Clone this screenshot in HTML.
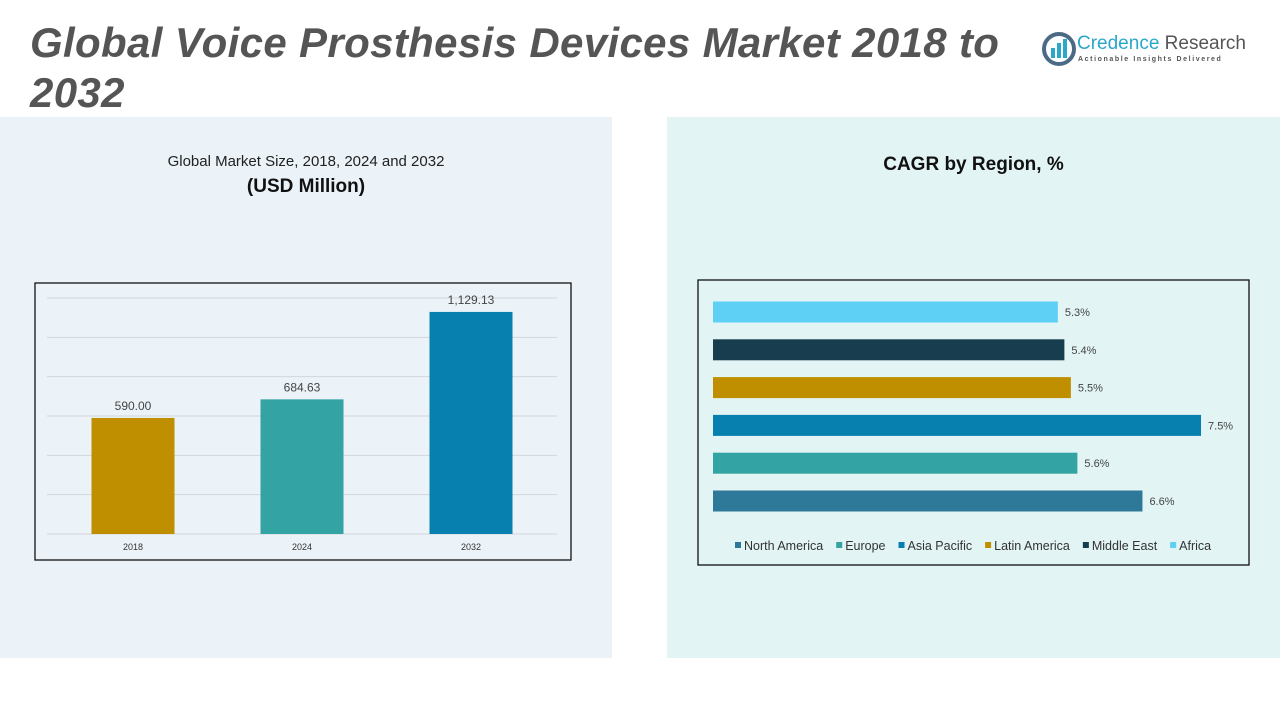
<!DOCTYPE html>
<html><head><meta charset="utf-8"><style>
body{margin:0;width:1280px;height:720px;position:relative;overflow:hidden;background:#fff;font-family:"Liberation Sans",sans-serif}
.abs{position:absolute}
</style></head><body>
<div class="abs" style="left:0;top:117px;width:612px;height:541px;background:#ebf3f8"></div>
<div class="abs" style="left:667px;top:117px;width:613px;height:541px;background:#e2f4f4"></div>
<div class="abs" style="left:30px;top:18px;width:1010px;font-size:42px;letter-spacing:0.35px;font-weight:bold;font-style:italic;color:#555;line-height:50px">Global Voice Prosthesis Devices Market 2018 to 2032</div>
<div class="abs" style="left:1040px;top:30px;width:220px;height:40px">
<svg width="34" height="34" style="position:absolute;left:2px;top:2px"><circle cx="17" cy="17" r="15" fill="none" stroke="#4a6a85" stroke-width="4"/><rect x="9" y="16" width="4" height="10" fill="#2aa7c9"/><rect x="15" y="11" width="4" height="15" fill="#2aa7c9"/><rect x="21" y="7" width="4" height="19" fill="#2aa7c9"/></svg>
<div class="abs" style="left:37px;top:3px;font-size:19px;color:#2aa7c9;white-space:nowrap">Credence <span style="color:#555">Research</span></div>
<div class="abs" style="left:38px;top:26px;font-size:7px;letter-spacing:1.6px;color:#555;white-space:nowrap;font-weight:bold">Actionable Insights Delivered</div>
</div>
<div class="abs" style="left:0;top:153px;width:612px;text-align:center;font-size:15px;color:#222">Global Market Size, 2018, 2024 and 2032</div>
<div class="abs" style="left:0;top:176px;width:612px;text-align:center;font-size:19px;font-weight:bold;color:#111">(USD Million)</div>
<div class="abs" style="left:667px;top:154px;width:613px;text-align:center;font-size:19px;font-weight:bold;color:#111">CAGR by Region, %</div>
<svg class="abs" style="left:0;top:0" width="1280" height="720">
<rect x="35" y="283" width="536" height="277" fill="none" stroke="#111" stroke-width="1.3"/>
<rect x="698" y="280" width="551" height="285" fill="none" stroke="#111" stroke-width="1.3"/>
<g id="left"></g><g id="right"></g>
</svg>
<script>
const years=["2018","2024","2032"];
const sizes=[590.00,684.63,1129.13];
const sizeLabels=["590.00","684.63","1,129.13"];
const barColors=["#bf8f00","#33a3a3","#0780b0"];
const regions=["Africa","Middle East","Latin America","Asia Pacific","Europe","North America"];
const cagr=[5.3,5.4,5.5,7.5,5.6,6.6];
const regionColors=["#5fd0f5","#173d4e","#bf8f00","#0780b0","#33a3a3","#2e789a"];
const legendOrder=["North America","Europe","Asia Pacific","Latin America","Middle East","Africa"];
const NS="http://www.w3.org/2000/svg";
function mk(t,a,p){const e=document.createElementNS(NS,t);for(const k in a)e.setAttribute(k,a[k]);p.appendChild(e);return e;}
const L=document.getElementById('left');
const yS=v=>534-v*(236/1200);
for(let i=0;i<=6;i++){const g=mk('line',{x1:47,x2:557,y1:yS(i*200),y2:yS(i*200),stroke:'#d0d6da','stroke-width':1},L);

}
years.forEach((y,i)=>{const cx=133+i*169;
const r=mk('rect',{x:cx-41.5,y:yS(sizes[i]),width:83,height:534-yS(sizes[i]),fill:barColors[i]},L);


const t=mk('text',{x:cx,y:yS(sizes[i])-8,'text-anchor':'middle','font-size':12,fill:'#444'},L);t.textContent=sizeLabels[i];


const x=mk('text',{x:cx,y:550,'text-anchor':'middle','font-size':9,fill:'#333'},L);x.textContent=y;

});
const R=document.getElementById('right');
const xS=v=>713+v*65.07;
regions.forEach((r,i)=>{const cy=312+i*37.8;
const b=mk('rect',{x:713,y:cy-10.5,width:xS(cagr[i])-713,height:21,fill:regionColors[i]},R);


const t=mk('text',{x:xS(cagr[i])+7,y:cy+4,'font-size':11,fill:'#444'},R);t.textContent=cagr[i]+'%';

});
let lx=735;
legendOrder.forEach(n=>{const c=regionColors[regions.indexOf(n)];
const s=mk('rect',{x:lx,y:542,width:6,height:6,fill:c},R);


const t=mk('text',{x:lx+9,y:550,'font-size':12.5,fill:'#333'},R);t.textContent=n;


lx+=9+t.getComputedTextLength()+13;});
</script>
</body></html>
